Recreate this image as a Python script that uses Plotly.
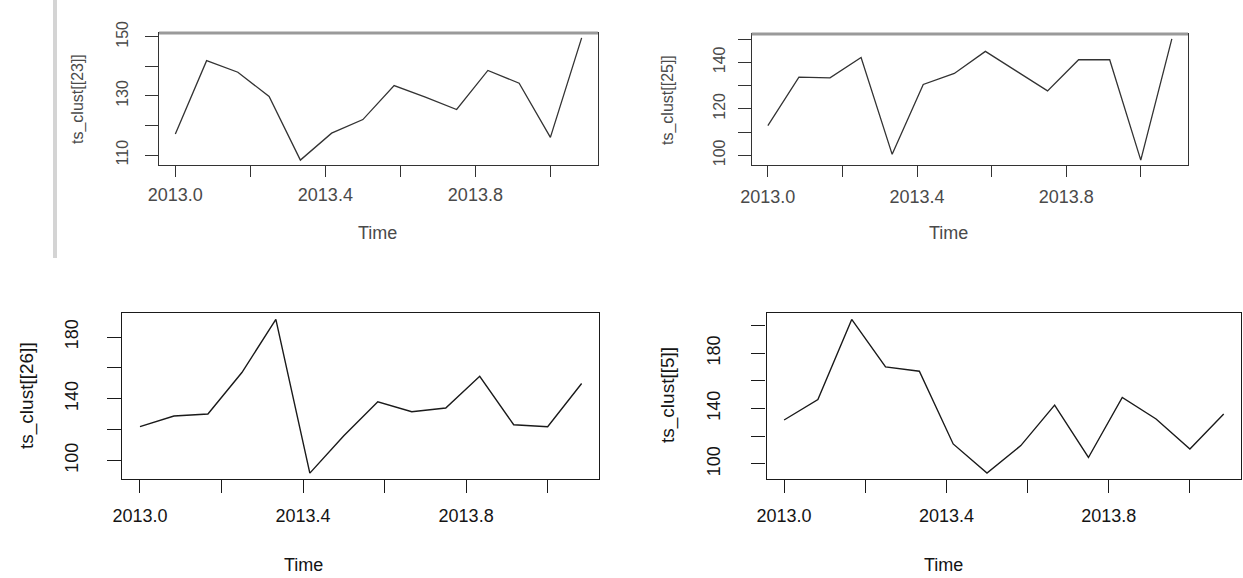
import plotly.graph_objects as go

W, H = 1243, 578

# ---- data (monthly series starting 2013.0, frequency 12) ----
months = list(range(14))
time_vals = [2013 + m / 12 for m in months]

ts23 = [117.1, 141.9, 138.0, 129.8, 108.3, 117.4, 122.0, 133.5, 129.6, 125.4, 138.6, 134.3, 116.0, 149.6]
ts25 = [112.8, 133.6, 133.3, 142.1, 100.4, 130.5, 135.2, 144.7, 136.2, 127.7, 141.1, 141.1, 97.9, 150.1]
ts26 = [121.9, 128.8, 130.1, 157.0, 191.4, 91.8, 116.0, 138.0, 131.6, 134.0, 154.6, 123.2, 121.9, 149.9]
ts5 = [131.7, 146.5, 204.3, 170.0, 166.9, 114.4, 93.3, 113.2, 142.4, 104.6, 148.0, 132.4, 110.8, 136.0]

x_tickvals = [2013.0, 2013.2, 2013.4, 2013.6, 2013.8, 2014.0]
x_ticktext = ["2013.0", "", "2013.4", "", "2013.8", ""]

y23_ticks = [110, 120, 130, 140, 150]
y23_text = ["110", "", "130", "", "150"]
y25_ticks = [100, 110, 120, 130, 140, 150]
y25_text = ["100", "", "120", "", "140", ""]
y26_ticks = [100, 120, 140, 160, 180]
y26_text = ["100", "", "140", "", "180"]
y5_ticks = [100, 120, 140, 160, 180, 200]
y5_text = ["100", "", "140", "", "180", ""]

ylabels = ["ts_clust[[23]]", "ts_clust[[25]]", "ts_clust[[26]]", "ts_clust[[5]]"]

FONT = "Liberation Sans, Arial, sans-serif"


def rpad(vals):
    lo, hi = min(vals), max(vals)
    p = 0.04 * (hi - lo)
    return [lo - p, hi + p]


panels = [
    dict(y=ts23, yt=y23_ticks, ytx=y23_text, box=(159.1, 597.9, 33, 165), top=True,
         title_x=377, title_y=233, ylab_x=78, ylab_y=99, xso=2, yso=11),
    dict(y=ts25, yt=y25_ticks, ytx=y25_text, box=(751.7, 1188.0, 34, 165), top=True,
         title_x=948, title_y=233, ylab_x=668, ylab_y=100, xso=4, yso=6),
    dict(y=ts26, yt=y26_ticks, ytx=y26_text, box=(122.3, 599.3, 313.3, 479.3), top=False,
         title_x=303, title_y=565, ylab_x=27, ylab_y=396, xso=7, yso=22),
    dict(y=ts5, yt=y5_ticks, ytx=y5_text, box=(766.5, 1241.3, 313.3, 479.3), top=False,
         title_x=943, title_y=565, ylab_x=668, ylab_y=395, xso=7, yso=24),
]

fig = go.Figure()
layout = dict(width=W, height=H, margin=dict(l=0, r=0, t=0, b=0, pad=0, autoexpand=False),
              template="none",
              paper_bgcolor="white", plot_bgcolor="white", showlegend=False)
annotations = []
shapes = []

for i, p in enumerate(panels):
    k = "" if i == 0 else str(i + 1)
    l, r, t, b = p["box"]
    top = p["top"]
    txt_col = "#4a4a4a" if top else "#141414"
    line_col = "#333333" if top else "#1a1a1a"
    fs_h = 18
    fs_r = 16 if top else 18
    fig.add_trace(go.Scatter(x=time_vals, y=p["y"], mode="lines",
                             line=dict(color=line_col, width=1.3 if top else 1.4),
                             xaxis="x" + k, yaxis="y" + k, hoverinfo="skip"))
    layout["xaxis" + k] = dict(
        domain=[l / W, r / W], anchor="y" + k, range=rpad(time_vals),
        tickmode="array", tickvals=x_tickvals, ticktext=x_ticktext,
        ticks="outside", ticklen=11 if top else 13, tickwidth=1.3, tickcolor=line_col,
        showline=True, mirror=True, linecolor=line_col, linewidth=1.3,
        showgrid=False, zeroline=False, automargin=False,
        tickfont=dict(family=FONT, size=fs_h, color=txt_col),
        ticklabelstandoff=p["xso"])
    layout["yaxis" + k] = dict(
        domain=[1 - b / H, 1 - t / H], anchor="x" + k, range=rpad(p["y"]),
        tickmode="array", tickvals=p["yt"], ticktext=p["ytx"], tickangle=-90,
        ticks="outside", ticklen=13 if top else 14, tickwidth=1.3, tickcolor=line_col,
        showline=True, mirror=True, linecolor=line_col, linewidth=1.3,
        showgrid=False, zeroline=False, automargin=False,
        tickfont=dict(family=FONT, size=fs_r, color=txt_col),
        ticklabelstandoff=p["yso"])
    annotations.append(dict(text="Time", x=p["title_x"] / W, y=1 - p["title_y"] / H,
                            xref="paper", yref="paper", xanchor="center", yanchor="middle",
                            showarrow=False,
                            font=dict(family=FONT, size=fs_h, color=txt_col)))
    annotations.append(dict(text=ylabels[i], x=p["ylab_x"] / W, y=1 - p["ylab_y"] / H,
                            xref="paper", yref="paper", xanchor="center", yanchor="middle",
                            textangle=-90, showarrow=False,
                            font=dict(family=FONT, size=fs_r if top else 19, color=txt_col)))
    if top:
        shapes.append(dict(type="line", xref="paper", yref="paper",
                           x0=l / W, x1=r / W, y0=1 - t / H, y1=1 - t / H,
                           line=dict(color="#9a9a9a", width=3)))

shapes.append(dict(type="rect", xref="paper", yref="paper",
                   x0=53 / W, x1=57 / W, y0=1 - 258 / H, y1=1,
                   fillcolor="#d4d4d4", line=dict(width=0)))

layout["annotations"] = annotations
layout["shapes"] = shapes
fig.update_layout(**layout)
fig.write_html("out.html", config={"displayModeBar": False},
               post_script="document.body.style.margin='0';document.body.style.overflow='hidden';")
